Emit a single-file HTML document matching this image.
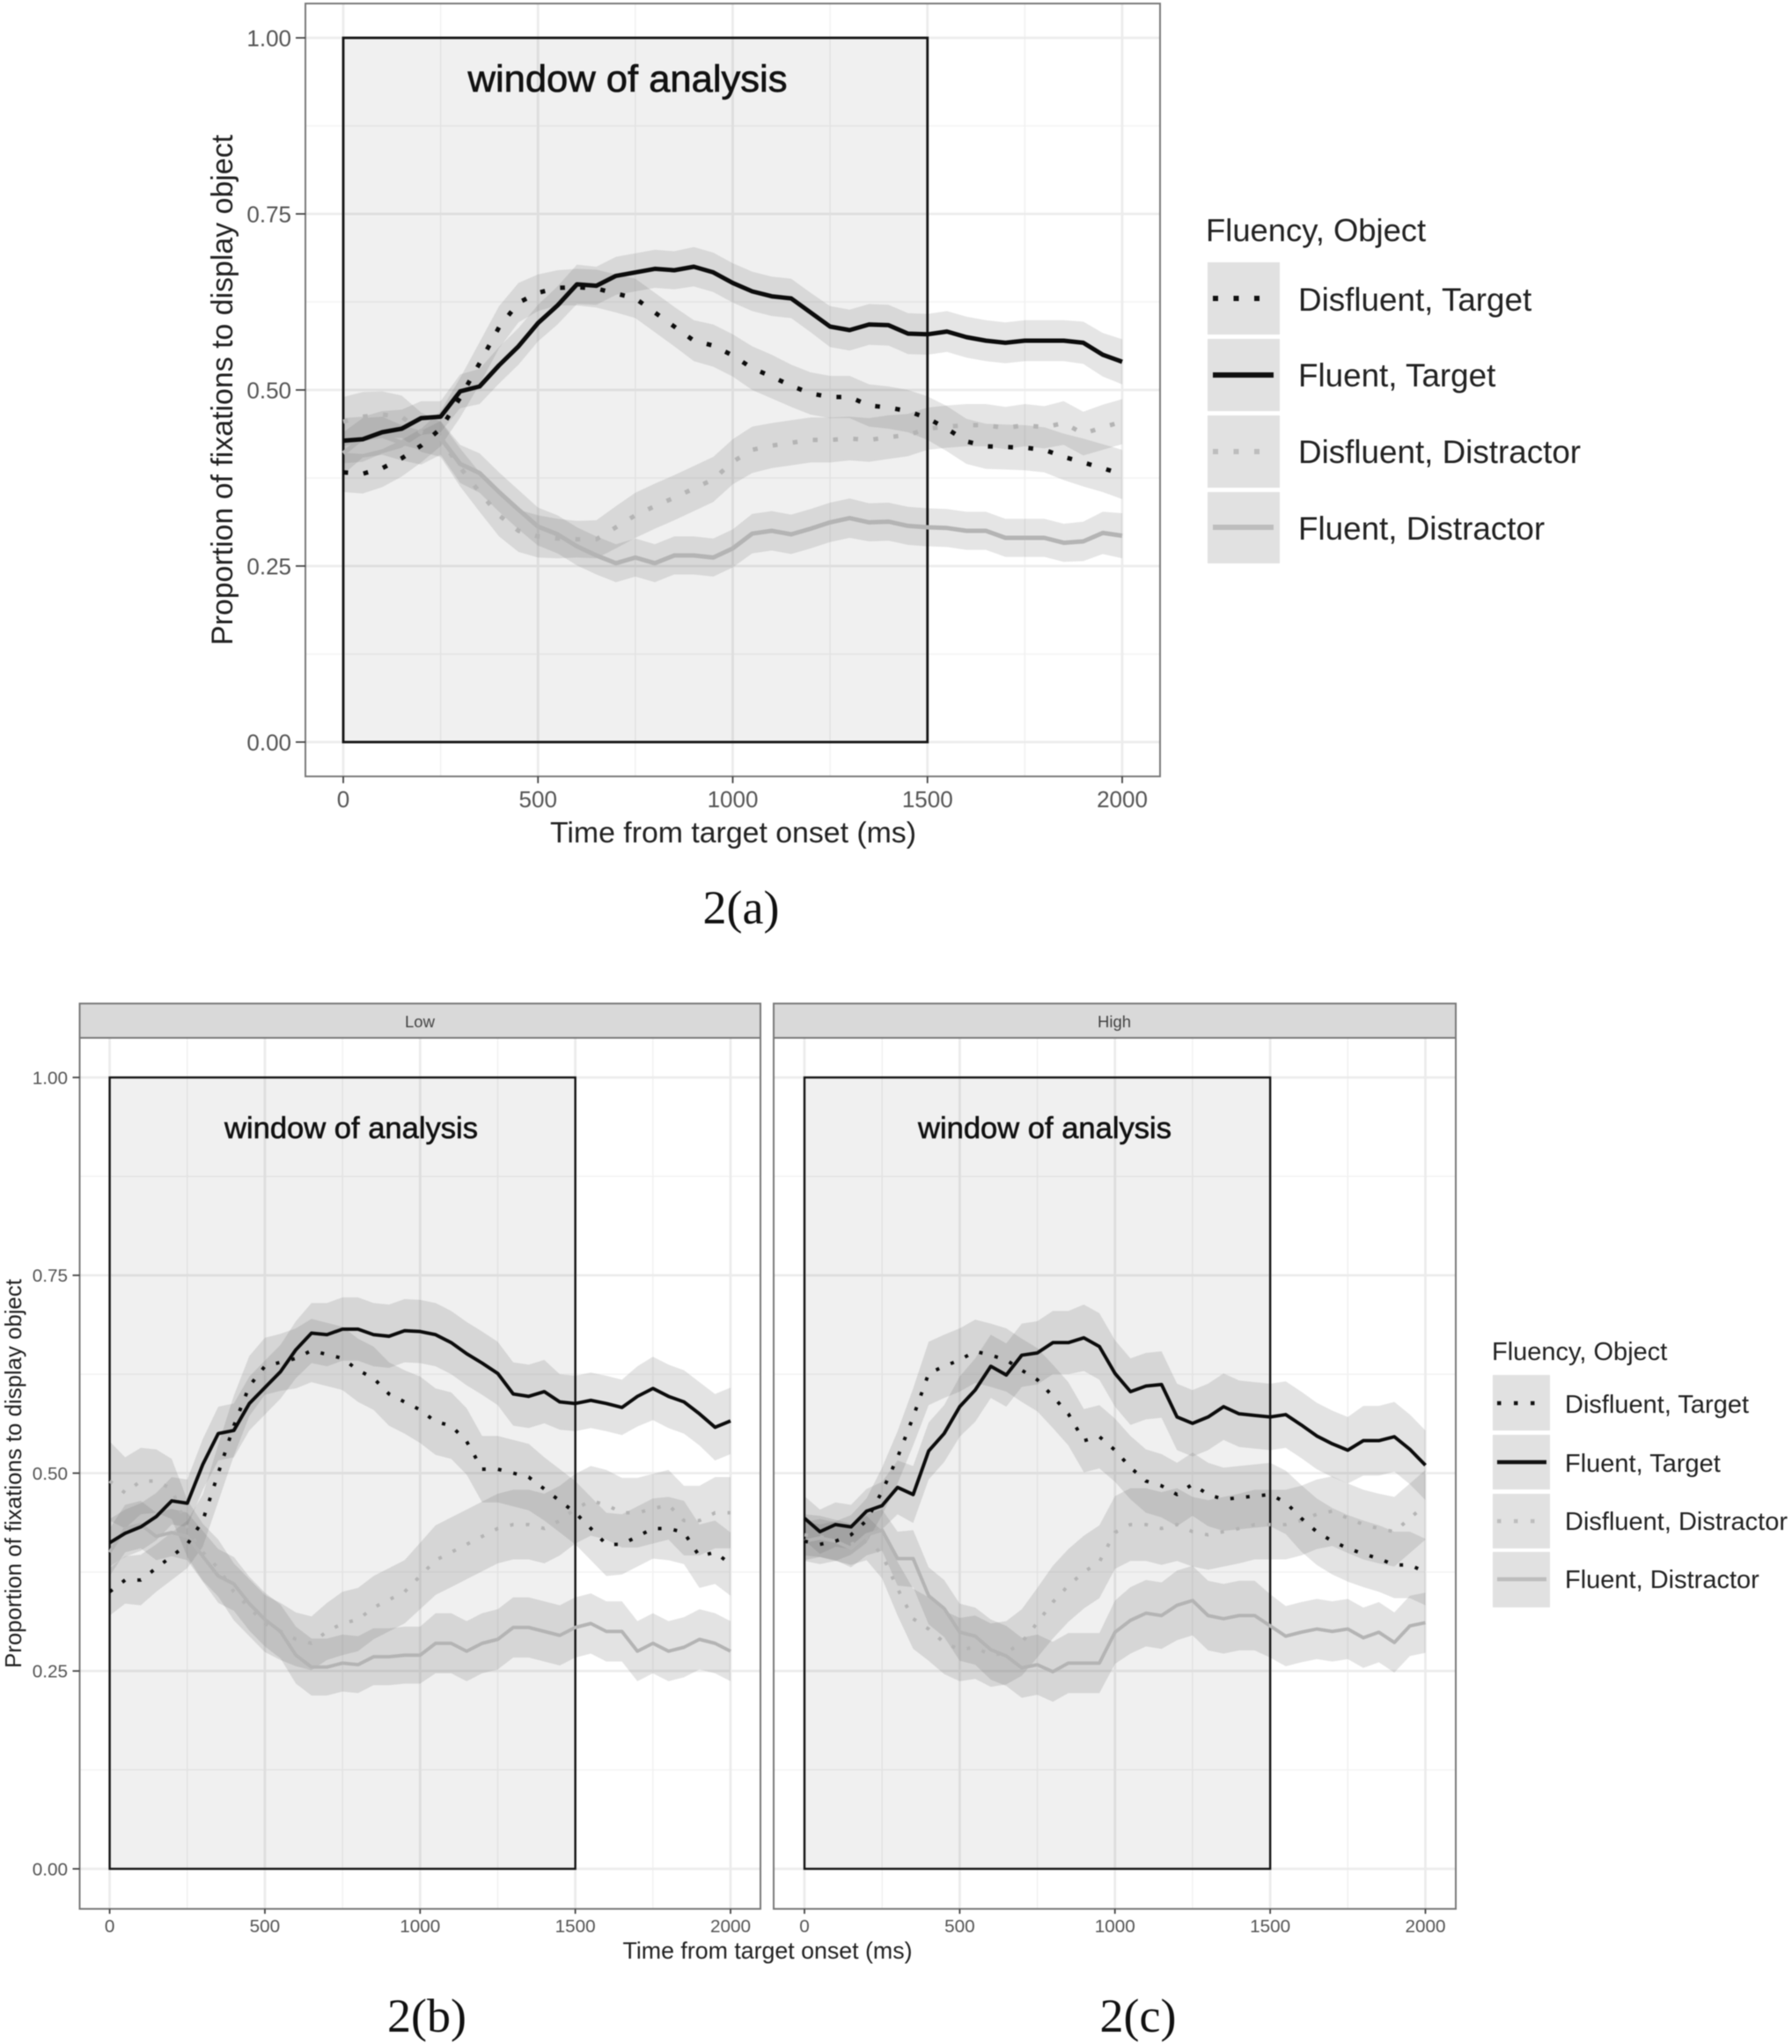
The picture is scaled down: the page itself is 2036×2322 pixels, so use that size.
<!DOCTYPE html>
<html lang="en">
<head>
<meta charset="utf-8">
<title>Proportion of fixations to display object over time</title>
<style>
html,body{margin:0;padding:0;background:#fff}
svg{display:block;font-family:"Liberation Sans",Arial,sans-serif;filter:blur(0.6px)}
</style>
</head>
<body>
<svg id="chart" xmlns="http://www.w3.org/2000/svg" width="2036" height="2322" viewBox="0 0 2036 2322">
<rect width="2036" height="2322" fill="#fff"/>
<g id="panels"></g>

<!-- Plot 2(a) text -->
<text transform="translate(264,443) rotate(-90)" text-anchor="middle" font-size="33.8" fill="#222" textLength="580" lengthAdjust="spacingAndGlyphs">Proportion of fixations to display object</text>
<text x="833" y="957" text-anchor="middle" font-size="33.6" fill="#222" textLength="416" lengthAdjust="spacingAndGlyphs">Time from target onset (ms)</text>
<text x="842" y="1049" text-anchor="middle" font-size="54" fill="#111" style="font-family:'Liberation Serif',serif">2(a)</text>
<text x="713" y="104" text-anchor="middle" font-size="43" fill="#111" stroke="#111" stroke-width="0.7" textLength="363" lengthAdjust="spacingAndGlyphs">window of analysis</text>

<!-- Legend a -->
<g>
<text x="1370" y="274" font-size="36.4" fill="#222">Fluency, Object</text>
<rect x="1372" y="298" width="82" height="82" fill="#e1e1e1"/>
<rect x="1372" y="385" width="82" height="82" fill="#e1e1e1"/>
<rect x="1372" y="472" width="82" height="82" fill="#e1e1e1"/>
<rect x="1372" y="559" width="82" height="81" fill="#e1e1e1"/>
<line x1="1378" x2="1447" y1="339" y2="339" stroke="#111" stroke-width="6" stroke-dasharray="6 17.5"/>
<line x1="1378" x2="1447" y1="426" y2="426" stroke="#111" stroke-width="6"/>
<line x1="1378" x2="1447" y1="513" y2="513" stroke="#bdbdbd" stroke-width="6" stroke-dasharray="6 17.5"/>
<line x1="1378" x2="1447" y1="599" y2="599" stroke="#bdbdbd" stroke-width="6"/>
<text x="1475" y="353" font-size="36.8" fill="#222">Disfluent, Target</text>
<text x="1475" y="439" font-size="36.8" fill="#222">Fluent, Target</text>
<text x="1475" y="526" font-size="36.8" fill="#222">Disfluent, Distractor</text>
<text x="1475" y="613" font-size="36.8" fill="#222">Fluent, Distractor</text>
</g>

<!-- Plot 2(b)/(c) text -->
<text transform="translate(24,1674) rotate(-90)" text-anchor="middle" font-size="25.8" fill="#222" textLength="442" lengthAdjust="spacingAndGlyphs">Proportion of fixations to display object</text>
<text x="872" y="2225" text-anchor="middle" font-size="26.7" fill="#222" textLength="329" lengthAdjust="spacingAndGlyphs">Time from target onset (ms)</text>
<text x="485" y="2308" text-anchor="middle" font-size="54" fill="#111" style="font-family:'Liberation Serif',serif">2(b)</text>
<text x="1293" y="2308" text-anchor="middle" font-size="54" fill="#111" style="font-family:'Liberation Serif',serif">2(c)</text>
<text x="399" y="1293" text-anchor="middle" font-size="34.5" fill="#111" stroke="#111" stroke-width="0.6" textLength="288" lengthAdjust="spacingAndGlyphs">window of analysis</text>
<text x="1187" y="1293" text-anchor="middle" font-size="34.5" fill="#111" stroke="#111" stroke-width="0.6" textLength="288" lengthAdjust="spacingAndGlyphs">window of analysis</text>
<text x="477" y="1167" text-anchor="middle" font-size="18.5" fill="#444">Low</text>
<text x="1266" y="1167" text-anchor="middle" font-size="18.5" fill="#444">High</text>

<!-- Legend b/c -->
<g>
<text x="1695" y="1545" font-size="29" fill="#222">Fluency, Object</text>
<rect x="1696" y="1562" width="65" height="63" fill="#e1e1e1"/>
<rect x="1696" y="1630" width="65" height="62" fill="#e1e1e1"/>
<rect x="1696" y="1697" width="65" height="62" fill="#e1e1e1"/>
<rect x="1696" y="1763" width="65" height="63" fill="#e1e1e1"/>
<line x1="1701" x2="1757" y1="1594" y2="1594" stroke="#111" stroke-width="4.5" stroke-dasharray="4.5 14.5"/>
<line x1="1701" x2="1757" y1="1661" y2="1661" stroke="#111" stroke-width="4.5"/>
<line x1="1701" x2="1757" y1="1728" y2="1728" stroke="#bdbdbd" stroke-width="4.5" stroke-dasharray="4.5 14.5"/>
<line x1="1701" x2="1757" y1="1794" y2="1794" stroke="#bdbdbd" stroke-width="4.5"/>
<text x="1778" y="1605" font-size="29" fill="#222">Disfluent, Target</text>
<text x="1778" y="1672" font-size="29" fill="#222">Fluent, Target</text>
<text x="1778" y="1738" font-size="29" fill="#222">Disfluent, Distractor</text>
<text x="1778" y="1804" font-size="29" fill="#222">Fluent, Distractor</text>
</g>
</svg>

<script>
// ---- Data ----
const time = [0,50,100,150,200,250,300,350,400,450,500,550,600,650,700,750,800,850,900,950,1000,1050,1100,1150,1200,1250,1300,1350,1400,1450,1500,1550,1600,1650,1700,1750,1800,1850,1900,1950,2000];
const xTickValues = [0,500,1000,1500,2000];
const xMinorValues = [250,750,1250,1750];
const yTickValues = [0,0.25,0.5,0.75,1];
const yMinorValues = [0.125,0.375,0.625,0.875];
const xTickLabels = ["0","500","1000","1500","2000"];
const yTickLabels = ["0.00","0.25","0.50","0.75","1.00"];
const windowStart = 0;
const windowEnd = 1500;

// Plot 2(a)
const aDisfluentTarget = [.383,.381,.389,.403,.421,.445,.489,.538,.589,.624,.638,.645,.646,.644,.637,.63,.61,.59,.57,.563,.549,.531,.519,.506,.495,.49,.49,.478,.475,.47,.46,.445,.427,.42,.419,.418,.415,.405,.397,.389,.38];
const aFluentTarget = [.428,.43,.44,.445,.46,.462,.498,.505,.535,.562,.595,.62,.65,.648,.662,.667,.672,.67,.675,.667,.652,.64,.633,.63,.61,.59,.585,.593,.592,.58,.579,.583,.575,.57,.567,.57,.57,.57,.567,.55,.54];
const aDisfluentDistractor = [.455,.462,.465,.462,.44,.43,.39,.355,.322,.30,.292,.289,.288,.288,.305,.322,.335,.347,.36,.373,.398,.415,.421,.425,.429,.429,.431,.429,.433,.436,.445,.448,.45,.45,.446,.45,.447,.453,.438,.447,.455];
const aFluentDistractor = [.41,.432,.435,.425,.418,.432,.395,.382,.355,.33,.306,.295,.278,.265,.254,.262,.254,.265,.265,.262,.275,.296,.30,.295,.303,.312,.318,.312,.313,.307,.305,.304,.30,.30,.29,.29,.29,.283,.285,.297,.293];
const aDisfluentTargetHalfWidth = [.028,.028,.027,.026,.024,.025,.028,.03,.03,.028,.026,.025,.026,.027,.027,.028,.028,.028,.029,.03,.03,.031,.031,.03,.03,.03,.03,.03,.03,.03,.031,.032,.032,.032,.032,.032,.032,.033,.034,.034,.035];
const aFluentTargetHalfWidth = [.032,.032,.03,.027,.024,.022,.024,.025,.026,.026,.026,.027,.028,.027,.027,.027,.027,.027,.028,.028,.028,.028,.028,.028,.028,.029,.029,.029,.029,.029,.029,.029,.029,.029,.029,.029,.029,.029,.03,.031,.032];
const aDisfluentDistractorHalfWidth = [.035,.035,.033,.03,.028,.025,.027,.028,.03,.03,.03,.028,.026,.027,.03,.032,.032,.032,.032,.032,.032,.033,.032,.032,.032,.032,.031,.031,.031,.03,.03,.03,.03,.03,.03,.03,.03,.031,.031,.032,.032];
const aFluentDistractorHalfWidth = [.03,.028,.027,.025,.024,.024,.027,.028,.028,.028,.027,.027,.027,.027,.027,.027,.027,.027,.027,.027,.027,.028,.028,.028,.028,.028,.028,.027,.027,.027,.027,.027,.027,.027,.027,.027,.027,.027,.028,.03,.032];

// Plot 2(b) Low
const bDisfluentTarget = [.35,.365,.365,.38,.395,.41,.44,.50,.56,.61,.635,.64,.645,.655,.65,.645,.63,.62,.60,.59,.58,.565,.56,.54,.505,.505,.50,.495,.48,.465,.45,.43,.41,.41,.42,.43,.43,.425,.395,.40,.385];
const bFluentTarget = [.412,.424,.432,.445,.465,.462,.511,.55,.554,.588,.608,.628,.656,.677,.675,.682,.682,.675,.673,.68,.679,.675,.665,.651,.639,.626,.60,.597,.603,.59,.588,.592,.588,.583,.597,.607,.597,.59,.575,.558,.566];
const bDisfluentDistractor = [.49,.475,.49,.49,.48,.43,.40,.38,.35,.33,.31,.30,.29,.285,.30,.31,.315,.33,.34,.35,.37,.39,.40,.41,.42,.43,.435,.435,.43,.44,.455,.465,.46,.45,.45,.455,.46,.44,.44,.45,.45];
const bFluentDistractor = [.40,.43,.435,.42,.425,.42,.395,.37,.36,.335,.315,.30,.27,.255,.255,.26,.258,.268,.268,.27,.27,.285,.285,.275,.285,.29,.305,.305,.30,.295,.305,.31,.30,.30,.275,.285,.275,.28,.29,.285,.275];
const bDisfluentTargetHalfWidth = [.03,.03,.032,.03,.03,.03,.033,.036,.038,.038,.036,.036,.038,.04,.04,.04,.04,.04,.04,.04,.042,.042,.042,.042,.042,.042,.042,.042,.04,.04,.04,.04,.04,.038,.038,.038,.04,.04,.04,.04,.04];
const bFluentTargetHalfWidth = [.03,.03,.03,.03,.03,.03,.032,.034,.034,.034,.034,.034,.036,.038,.04,.04,.04,.04,.04,.04,.04,.04,.04,.04,.04,.04,.04,.04,.04,.035,.035,.035,.035,.035,.038,.04,.04,.04,.04,.042,.042];
const bDisfluentDistractorHalfWidth = [.05,.045,.042,.04,.038,.036,.036,.036,.036,.036,.036,.036,.034,.034,.036,.04,.04,.04,.04,.04,.042,.044,.044,.044,.044,.044,.044,.044,.044,.044,.044,.044,.044,.044,.044,.044,.044,.044,.044,.045,.045];
const bFluentDistractorHalfWidth = [.03,.03,.03,.03,.03,.03,.032,.034,.034,.034,.034,.034,.036,.036,.036,.036,.036,.036,.036,.036,.036,.038,.038,.038,.038,.038,.038,.038,.038,.038,.038,.038,.038,.038,.038,.038,.038,.038,.038,.038,.038];

// Plot 2(c) High
const cDisfluentTarget = [.414,.41,.414,.422,.44,.477,.52,.571,.626,.635,.643,.654,.649,.643,.63,.618,.597,.575,.541,.546,.529,.507,.49,.484,.473,.486,.473,.467,.469,.471,.473,.463,.443,.426,.414,.405,.398,.392,.384,.384,.375];
const cFluentTarget = [.443,.426,.435,.432,.452,.459,.482,.473,.528,.55,.584,.605,.635,.624,.649,.652,.665,.665,.671,.66,.626,.603,.61,.612,.571,.563,.571,.584,.575,.573,.571,.574,.561,.547,.537,.529,.541,.541,.546,.53,.51];
const cDisfluentDistractor = [.422,.42,.415,.41,.418,.397,.354,.316,.303,.286,.277,.28,.27,.273,.286,.311,.337,.358,.375,.388,.425,.435,.435,.43,.435,.426,.422,.426,.43,.435,.435,.435,.44,.448,.452,.443,.435,.43,.426,.443,.46];
const cFluentDistractor = [.414,.418,.414,.405,.422,.428,.392,.392,.345,.329,.299,.294,.277,.269,.254,.258,.249,.26,.26,.26,.299,.314,.323,.32,.333,.339,.32,.316,.32,.32,.307,.294,.299,.303,.30,.303,.292,.299,.286,.307,.311];
const cDisfluentTargetHalfWidth = [.025,.025,.025,.025,.028,.03,.033,.036,.04,.04,.04,.04,.04,.04,.04,.04,.04,.04,.04,.04,.04,.04,.04,.04,.04,.04,.04,.04,.04,.04,.04,.04,.042,.042,.042,.042,.042,.042,.042,.042,.042];
const cFluentTargetHalfWidth = [.028,.028,.028,.028,.028,.03,.034,.036,.036,.036,.038,.04,.04,.04,.04,.04,.04,.04,.042,.042,.042,.042,.042,.042,.042,.042,.042,.042,.042,.042,.042,.042,.042,.042,.042,.042,.044,.044,.044,.044,.044];
const cDisfluentDistractorHalfWidth = [.026,.026,.026,.026,.028,.03,.034,.038,.04,.04,.04,.04,.04,.04,.042,.044,.046,.046,.046,.046,.046,.046,.046,.046,.046,.044,.044,.044,.044,.044,.044,.044,.044,.044,.044,.044,.044,.044,.044,.044,.044];
const cFluentDistractorHalfWidth = [.024,.024,.024,.024,.026,.026,.034,.036,.036,.036,.036,.036,.038,.038,.038,.038,.038,.038,.038,.038,.04,.042,.042,.042,.044,.044,.044,.044,.044,.044,.04,.038,.038,.038,.038,.038,.038,.038,.038,.038,.038];

// ---- Layout and styles ----
const panelFrames = [
  {key:'a', x0:390, x2000:1275, y0:843, y1:43, left:347, right:1318, top:4, bottom:882, line:5, dash:'5.5 17.5', ribbon:.17, tick:26, tickLen:11, showY:true, border:2, labelRight:331, xLabelY:917, box:2.8,
   series:[
    {name:'disfluent-target', v:aDisfluentTarget, h:aDisfluentTargetHalfWidth, c:'#0c0c0c', dotted:true},
    {name:'fluent-target', v:aFluentTarget, h:aFluentTargetHalfWidth, c:'#0c0c0c', dotted:false},
    {name:'disfluent-distractor', v:aDisfluentDistractor, h:aDisfluentDistractorHalfWidth, c:'#b4b4b4', dotted:true},
    {name:'fluent-distractor', v:aFluentDistractor, h:aFluentDistractorHalfWidth, c:'#b4b4b4', dotted:false}]},
  {key:'b', x0:124.6, x2000:830, y0:2123, y1:1224, left:90.5, right:864, top:1179, bottom:2168.5, line:3.9, dash:'4 14', ribbon:.18, tick:20.7, tickLen:8, showY:true, border:2, labelRight:77, xLabelY:2195, box:2.4,
   strip:{top:1140, bottom:1179},
   series:[
    {name:'disfluent-target', v:bDisfluentTarget, h:bDisfluentTargetHalfWidth, c:'#0c0c0c', dotted:true},
    {name:'fluent-target', v:bFluentTarget, h:bFluentTargetHalfWidth, c:'#0c0c0c', dotted:false},
    {name:'disfluent-distractor', v:bDisfluentDistractor, h:bDisfluentDistractorHalfWidth, c:'#b4b4b4', dotted:true},
    {name:'fluent-distractor', v:bFluentDistractor, h:bFluentDistractorHalfWidth, c:'#b4b4b4', dotted:false}]},
  {key:'c', x0:914, x2000:1619.5, y0:2123, y1:1224, left:879, right:1654, top:1179, bottom:2168.5, line:3.9, dash:'4 14', ribbon:.18, tick:20.7, tickLen:8, showY:false, border:2, labelRight:0, xLabelY:2195, box:2.4,
   strip:{top:1140, bottom:1179},
   series:[
    {name:'disfluent-target', v:cDisfluentTarget, h:cDisfluentTargetHalfWidth, c:'#0c0c0c', dotted:true},
    {name:'fluent-target', v:cFluentTarget, h:cFluentTargetHalfWidth, c:'#0c0c0c', dotted:false},
    {name:'disfluent-distractor', v:cDisfluentDistractor, h:cDisfluentDistractorHalfWidth, c:'#b4b4b4', dotted:true},
    {name:'fluent-distractor', v:cFluentDistractor, h:cFluentDistractorHalfWidth, c:'#b4b4b4', dotted:false}]}
];

const NS = 'http://www.w3.org/2000/svg';
const root = document.getElementById('panels');

function make(tag, attrs, parent) {
  const el = document.createElementNS(NS, tag);
  for (const k in attrs) el.setAttribute(k, attrs[k]);
  parent.appendChild(el);
  return el;
}

function drawPanel(p) {
  const xScale = function (ms) { return p.x0 + ms * (p.x2000 - p.x0) / 2000; };
  const yScale = function (val) { return p.y0 - val * (p.y0 - p.y1); };

  const g = make('g', {}, root);
  
  

  // Strip
  if (p.strip) {
    const strip = make('rect', {x:p.left, y:p.strip.top, width:p.right-p.left, height:p.strip.bottom-p.strip.top, fill:'#d9d9d9', stroke:'#7a7a7a', 'stroke-width':2}, g);
    
    
  }

  // Gridlines
  yMinorValues.forEach(function (v) {
    const l = make('line', {x1:p.left, x2:p.right, y1:yScale(v), y2:yScale(v), stroke:'#f3f3f3', 'stroke-width':1.5}, g);
    
    
  });
  xMinorValues.forEach(function (v) {
    const l = make('line', {x1:xScale(v), x2:xScale(v), y1:p.top, y2:p.bottom, stroke:'#f1f1f1', 'stroke-width':1.5}, g);
    
    
  });
  yTickValues.forEach(function (v) {
    const l = make('line', {x1:p.left, x2:p.right, y1:yScale(v), y2:yScale(v), stroke:'#ececec', 'stroke-width':2.8}, g);
    
    
  });
  xTickValues.forEach(function (v) {
    const l = make('line', {x1:xScale(v), x2:xScale(v), y1:p.top, y2:p.bottom, stroke:'#ececec', 'stroke-width':2.8}, g);
    
    
  });

  // Window of analysis
  const win = make('rect', {x:xScale(windowStart), y:yScale(1), width:xScale(windowEnd)-xScale(windowStart), height:yScale(0)-yScale(1), fill:'#000', 'fill-opacity':.06, stroke:'none'}, g);
  
  

  // Ribbons
  p.series.forEach(function (s) {
    let d = '';
    time.forEach(function (t, i) { d += (i ? 'L' : 'M') + xScale(t).toFixed(1) + ' ' + yScale(s.v[i] + s.h[i]).toFixed(1); });
    for (let i = time.length - 1; i >= 0; i--) d += 'L' + xScale(time[i]).toFixed(1) + ' ' + yScale(s.v[i] - s.h[i]).toFixed(1);
    const r = make('path', {d:d + 'Z', fill:'#666', 'fill-opacity':p.ribbon}, g);
    
    
  });

  // Window border above ribbons
  const border = make('rect', {x:xScale(windowStart), y:yScale(1), width:xScale(windowEnd)-xScale(windowStart), height:yScale(0)-yScale(1), fill:'none', stroke:'#141414', 'stroke-width':p.box}, g);
  
  

  // Lines
  p.series.slice().reverse().forEach(function (s) {
    let d = '';
    time.forEach(function (t, i) { d += (i ? 'L' : 'M') + xScale(t).toFixed(1) + ' ' + yScale(s.v[i]).toFixed(1); });
    const attrs = {d:d, fill:'none', stroke:s.c, 'stroke-width':p.line, 'stroke-linejoin':'round'};
    if (s.dotted) attrs['stroke-dasharray'] = p.dash;
    const l = make('path', attrs, g);
    
    
  });

  // Panel border
  const frame = make('rect', {x:p.left, y:p.top, width:p.right-p.left, height:p.bottom-p.top, fill:'none', stroke:'#7a7a7a', 'stroke-width':p.border}, g);
  
  

  // X ticks and labels
  xTickValues.forEach(function (v, i) {
    const t = make('line', {x1:xScale(v), x2:xScale(v), y1:p.bottom, y2:p.bottom + p.tickLen * .7, stroke:'#444', 'stroke-width':1.8}, g);
    
    
    const lab = make('text', {x:xScale(v), y:p.xLabelY, 'text-anchor':'middle', 'font-size':p.tick, fill:'#555'}, g);
    
    
    lab.textContent = xTickLabels[i];
  });

  // Y ticks and labels
  if (p.showY) {
    yTickValues.forEach(function (v, i) {
      const t = make('line', {x1:p.left - p.tickLen, x2:p.left, y1:yScale(v), y2:yScale(v), stroke:'#444', 'stroke-width':1.8}, g);
      
      
      const lab = make('text', {x:p.labelRight, y:yScale(v) + p.tick * .36, 'text-anchor':'end', 'font-size':p.tick, fill:'#555'}, g);
      
      
      lab.textContent = yTickLabels[i];
    });
  }
}

panelFrames.forEach(drawPanel);
</script>
</body>
</html>
